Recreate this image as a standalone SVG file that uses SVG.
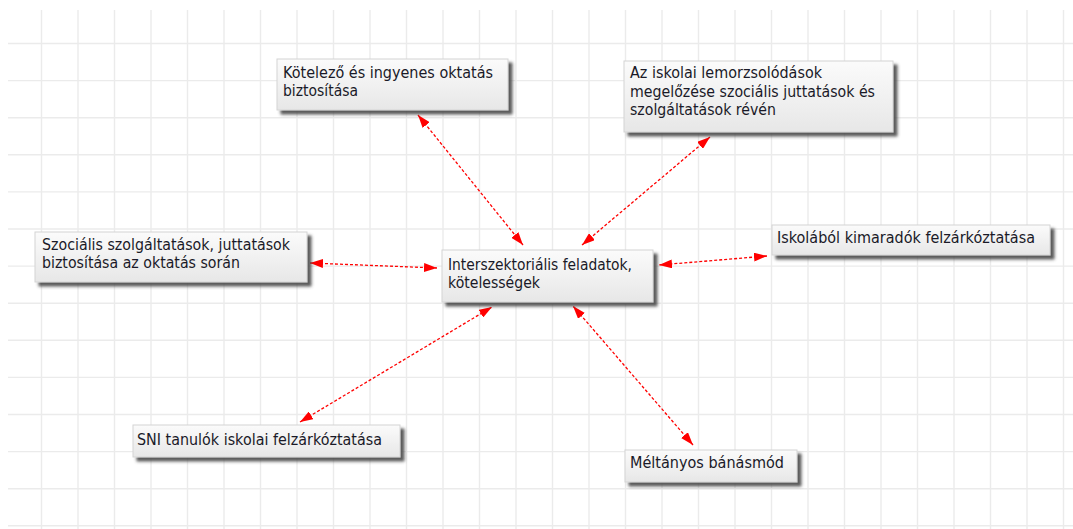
<svg xmlns="http://www.w3.org/2000/svg" width="1073" height="529" viewBox="0 0 1073 529">
  <style>
    .grid line { stroke: #ebebeb; stroke-width: 1.4; }
    .box { fill: url(#boxFill); stroke: #d4d4d4; stroke-width: 1; filter: url(#shadow); }
    .label { font-family: "DejaVu Sans", Verdana, sans-serif; font-size: 15px; fill: #1a1a28; }
    .link { stroke: #ff0000; stroke-width: 1.3; stroke-dasharray: 3 2; fill: none; marker-start: url(#head); marker-end: url(#head); }
  </style>
  <defs>
    <linearGradient id="boxFill" x1="0" y1="0" x2="0" y2="1">
      <stop offset="0" stop-color="#fbfbfb"/>
      <stop offset="1" stop-color="#e7e7e7"/>
    </linearGradient>
    <filter id="shadow" x="-10%" y="-20%" width="130%" height="150%">
      <feDropShadow dx="4" dy="4" stdDeviation="1.5" flood-color="#4a4a4a" flood-opacity="0.9"/>
    </filter>
    <marker id="head" viewBox="0 0 13 9" refX="13" refY="4.5" markerWidth="13" markerHeight="9" markerUnits="userSpaceOnUse" orient="auto-start-reverse">
      <path d="M0,0 L13,4.5 L0,9 Z" fill="#ff0000"/>
    </marker>
  </defs>

  <rect width="1073" height="529" fill="#ffffff"/>

  <!-- background grid -->
  <g class="grid">
    <line x1="41.5" y1="10" x2="41.5" y2="529"/>
    <line x1="78" y1="10" x2="78" y2="529"/>
    <line x1="114.5" y1="10" x2="114.5" y2="529"/>
    <line x1="151" y1="10" x2="151" y2="529"/>
    <line x1="187.5" y1="10" x2="187.5" y2="529"/>
    <line x1="224" y1="10" x2="224" y2="529"/>
    <line x1="260.5" y1="10" x2="260.5" y2="529"/>
    <line x1="297" y1="10" x2="297" y2="529"/>
    <line x1="333.5" y1="10" x2="333.5" y2="529"/>
    <line x1="370" y1="10" x2="370" y2="529"/>
    <line x1="406.5" y1="10" x2="406.5" y2="529"/>
    <line x1="443" y1="10" x2="443" y2="529"/>
    <line x1="479.5" y1="10" x2="479.5" y2="529"/>
    <line x1="516" y1="10" x2="516" y2="529"/>
    <line x1="552.5" y1="10" x2="552.5" y2="529"/>
    <line x1="589" y1="10" x2="589" y2="529"/>
    <line x1="625.5" y1="10" x2="625.5" y2="529"/>
    <line x1="662" y1="10" x2="662" y2="529"/>
    <line x1="698.5" y1="10" x2="698.5" y2="529"/>
    <line x1="735" y1="10" x2="735" y2="529"/>
    <line x1="771.5" y1="10" x2="771.5" y2="529"/>
    <line x1="808" y1="10" x2="808" y2="529"/>
    <line x1="844.5" y1="10" x2="844.5" y2="529"/>
    <line x1="881" y1="10" x2="881" y2="529"/>
    <line x1="917.5" y1="10" x2="917.5" y2="529"/>
    <line x1="954" y1="10" x2="954" y2="529"/>
    <line x1="990.5" y1="10" x2="990.5" y2="529"/>
    <line x1="1027" y1="10" x2="1027" y2="529"/>
    <line x1="1063.5" y1="10" x2="1063.5" y2="529"/>
    <line x1="8" y1="43.5" x2="1073" y2="43.5"/>
    <line x1="8" y1="80.6" x2="1073" y2="80.6"/>
    <line x1="8" y1="117.7" x2="1073" y2="117.7"/>
    <line x1="8" y1="154.8" x2="1073" y2="154.8"/>
    <line x1="8" y1="191.9" x2="1073" y2="191.9"/>
    <line x1="8" y1="229" x2="1073" y2="229"/>
    <line x1="8" y1="266.1" x2="1073" y2="266.1"/>
    <line x1="8" y1="303.2" x2="1073" y2="303.2"/>
    <line x1="8" y1="340.3" x2="1073" y2="340.3"/>
    <line x1="8" y1="377.4" x2="1073" y2="377.4"/>
    <line x1="8" y1="414.5" x2="1073" y2="414.5"/>
    <line x1="8" y1="451.6" x2="1073" y2="451.6"/>
    <line x1="8" y1="488.7" x2="1073" y2="488.7"/>
    <line x1="8" y1="525.8" x2="1073" y2="525.8"/>
  </g>

  <!-- connectors (two-way) -->
  <g id="connectors">
    <line class="link" x1="418" y1="115" x2="523" y2="245"/>
    <line class="link" x1="710" y1="137" x2="582" y2="245"/>
    <line class="link" x1="310" y1="263" x2="437" y2="268"/>
    <line class="link" x1="767" y1="256" x2="659" y2="265"/>
    <line class="link" x1="300" y1="422" x2="492" y2="307"/>
    <line class="link" x1="693" y1="445" x2="573" y2="306"/>
  </g>

  <g id="node-kotelezo">
    <rect class="box" x="277" y="59" width="231" height="51"/>
    <text class="label" x="283" y="78" textLength="210" lengthAdjust="spacingAndGlyphs">Kötelező és ingyenes oktatás</text>
    <text class="label" x="283" y="96" textLength="75" lengthAdjust="spacingAndGlyphs">biztosítása</text>
  </g>

  <g id="node-lemorzsolodas">
    <rect class="box" x="624" y="61" width="269" height="71"/>
    <text class="label" x="630" y="78" textLength="192" lengthAdjust="spacingAndGlyphs">Az iskolai lemorzsolódások</text>
    <text class="label" x="630" y="97" textLength="245" lengthAdjust="spacingAndGlyphs">megelőzése szociális juttatások és</text>
    <text class="label" x="630" y="115" textLength="146" lengthAdjust="spacingAndGlyphs">szolgáltatások révén</text>
  </g>

  <g id="node-szocialis">
    <rect class="box" x="35" y="232" width="272" height="50"/>
    <text class="label" x="42" y="250" textLength="248" lengthAdjust="spacingAndGlyphs">Szociális szolgáltatások, juttatások</text>
    <text class="label" x="42" y="268" textLength="198" lengthAdjust="spacingAndGlyphs">biztosítása az oktatás során</text>
  </g>

  <g id="node-interszektorialis">
    <rect class="box" x="442" y="250" width="211" height="52"/>
    <text class="label" x="448" y="270" textLength="184" lengthAdjust="spacingAndGlyphs">Interszektoriális feladatok,</text>
    <text class="label" x="448" y="288" textLength="92" lengthAdjust="spacingAndGlyphs">kötelességek</text>
  </g>

  <g id="node-kimaradok">
    <rect class="box" x="772" y="225" width="278" height="30"/>
    <text class="label" x="777" y="243" textLength="258" lengthAdjust="spacingAndGlyphs">Iskolából kimaradók felzárkóztatása</text>
  </g>

  <g id="node-sni">
    <rect class="box" x="133" y="425" width="267" height="32"/>
    <text class="label" x="137" y="445" textLength="245" lengthAdjust="spacingAndGlyphs">SNI tanulók iskolai felzárkóztatása</text>
  </g>

  <g id="node-meltanyos">
    <rect class="box" x="625" y="450" width="172" height="32"/>
    <text class="label" x="630" y="468" textLength="154" lengthAdjust="spacingAndGlyphs">Méltányos bánásmód</text>
  </g>
</svg>
